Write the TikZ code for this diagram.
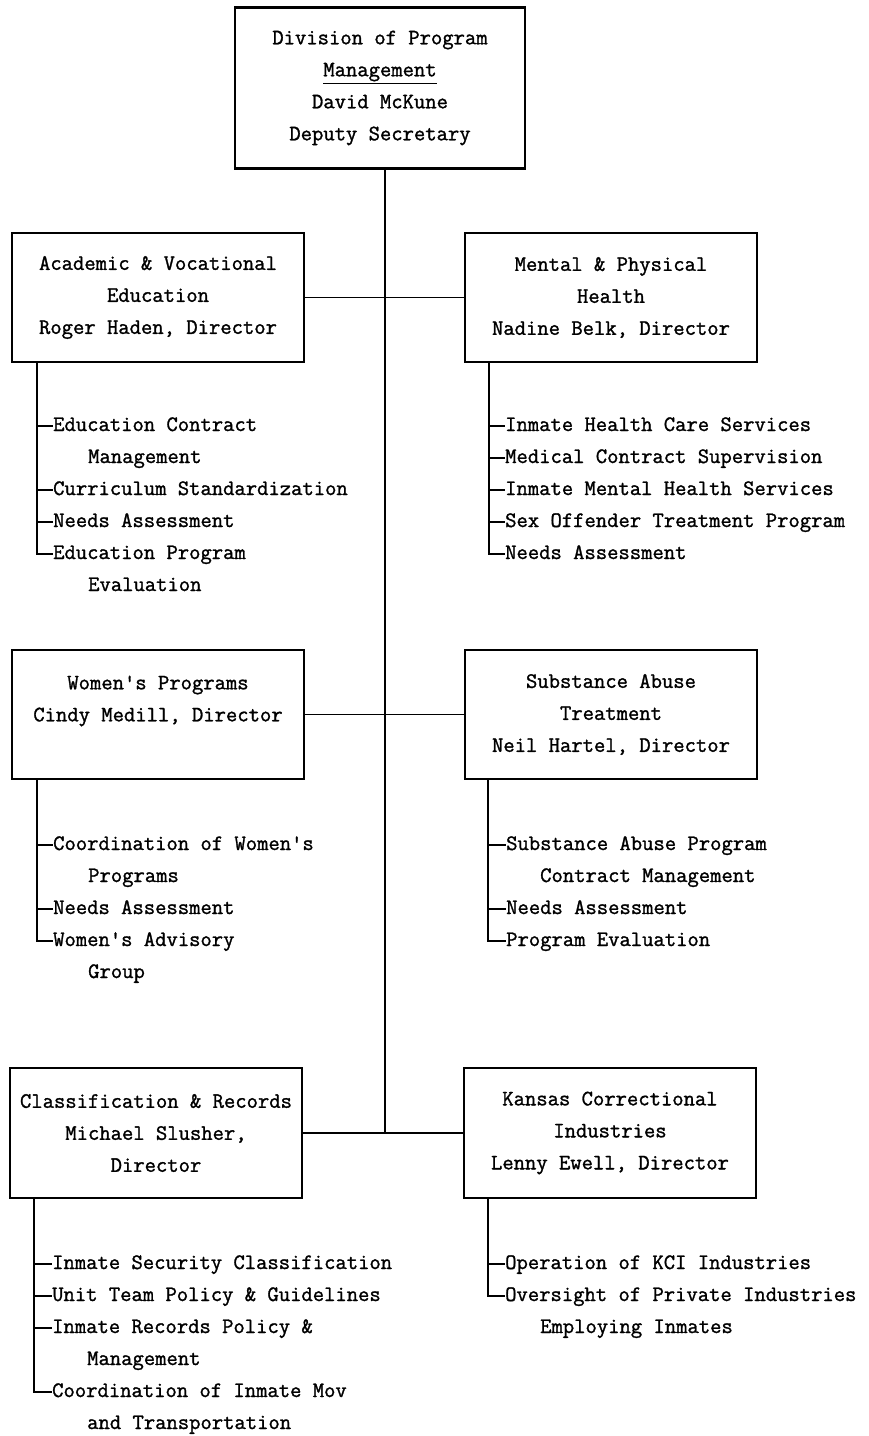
\documentclass[tikz,border=0pt]{standalone}
\usepackage{fontspec}
\newfontfamily\orgtt{lmmono12-regular}[Extension=.otf,FakeBold=1.3]
\newcommand\orgfont{\fontsize{22}{32}\selectfont\orgtt}
\begin{document}
\begin{tikzpicture}[x=1pt,y=-1pt,
  unitbox/.style={draw, line width=1.8pt, minimum width=292pt, minimum height=129pt, inner sep=0pt, align=center, font=\orgfont},
  item/.style={anchor=west, inner sep=0pt, font=\orgfont, text height=14pt, text depth=4pt},
  link/.style={line width=1.8pt}]
\useasboundingbox (0,0) rectangle (869,1436);
\fill[white] (0,0) rectangle (869,1436);

% top box
\node[unitbox, line width=2.6pt, minimum width=290pt, minimum height=161pt] (top) at (380,88)
  {Division of Program\\\underline{Management}\\David McKune\\Deputy Secretary};

% unit boxes
\node[unitbox] (acad) at (158,297.5) {Academic \& Vocational\\Education\\Roger Haden, Director};
\node[unitbox] (ment) at (611,297.5) {Mental \& Physical\\Health\\Nadine Belk, Director};
\node[unitbox] (wom) at (158,714.5) {Women's Programs\\Cindy Medill, Director\\\mbox{}};
\node[unitbox] (subs) at (611,714.5) {Substance Abuse\\Treatment\\Neil Hartel, Director};
\node[unitbox, minimum height=130pt] (cls) at (156,1133) {Classification \& Records\\Michael Slusher,\\Director};
\node[unitbox, minimum height=130pt] (kci) at (610,1133) {Kansas Correctional\\Industries\\Lenny Ewell, Director};

% trunk and branches
\coordinate (tend) at (385,1133);
\draw[link] (top.south -| tend) -- (tend);
\draw[link] (acad.east) -- (ment.west);
\draw[link] (wom.east) -- (subs.west);
\draw[link] (cls.east) -- (kci.west);

% Academic items
\node[item] (a1) at (53,426) {Education Contract};
\node[item] (a1b) at (88,458) {Management};
\node[item] (a2) at (53,490) {Curriculum Standardization};
\node[item] (a3) at (53,522) {Needs Assessment};
\node[item] (a4) at (53,554) {Education Program};
\node[item] (a4b) at (88,586) {Evaluation};
\coordinate (av) at (37,0);
\draw[link] (acad.south -| av) |- (a4.west);
\foreach \n in {a1,a2,a3} \draw[link] (\n.west -| av) -- (\n.west);

% Mental items
\node[item] (m1) at (505,426) {Inmate Health Care Services};
\node[item] (m2) at (505,458) {Medical Contract Supervision};
\node[item] (m3) at (505,490) {Inmate Mental Health Services};
\node[item] (m4) at (505,522) {Sex Offender Treatment Program};
\node[item] (m5) at (505,554) {Needs Assessment};
\coordinate (mv) at (489,0);
\draw[link] (ment.south -| mv) |- (m5.west);
\foreach \n in {m1,m2,m3,m4} \draw[link] (\n.west -| mv) -- (\n.west);

% Women items
\node[item] (w1) at (53,845) {Coordination of Women's};
\node[item] (w1b) at (88,877) {Programs};
\node[item] (w2) at (53,909) {Needs Assessment};
\node[item] (w3) at (53,941) {Women's Advisory};
\node[item] (w3b) at (88,973) {Group};
\coordinate (wv) at (37,0);
\draw[link] (wom.south -| wv) |- (w3.west);
\foreach \n in {w1,w2} \draw[link] (\n.west -| wv) -- (\n.west);

% Substance items
\node[item] (s1) at (506,845) {Substance Abuse Program};
\node[item] (s1b) at (540,877) {Contract Management};
\node[item] (s2) at (506,909) {Needs Assessment};
\node[item] (s3) at (506,941) {Program Evaluation};
\coordinate (sv) at (488,0);
\draw[link] (subs.south -| sv) |- (s3.west);
\foreach \n in {s1,s2} \draw[link] (\n.west -| sv) -- (\n.west);

% Classification items
\node[item] (c1) at (52,1264) {Inmate Security Classification};
\node[item] (c2) at (52,1296) {Unit Team Policy \& Guidelines};
\node[item] (c3) at (52,1328) {Inmate Records Policy \&};
\node[item] (c3b) at (87,1360) {Management};
\node[item] (c4) at (52,1392) {Coordination of Inmate Mov};
\node[item] (c4b) at (87,1424) {and Transportation};
\coordinate (cv) at (34,0);
\draw[link] (cls.south -| cv) |- (c4.west);
\foreach \n in {c1,c2,c3} \draw[link] (\n.west -| cv) -- (\n.west);

% KCI items
\node[item] (k1) at (505,1264) {Operation of KCI Industries};
\node[item] (k2) at (505,1296) {Oversight of Private Industries};
\node[item] (k2b) at (540,1328) {Employing Inmates};
\coordinate (kv) at (488,0);
\draw[link] (kci.south -| kv) |- (k2.west);
\draw[link] (k1.west -| kv) -- (k1.west);
\end{tikzpicture}
\end{document}
